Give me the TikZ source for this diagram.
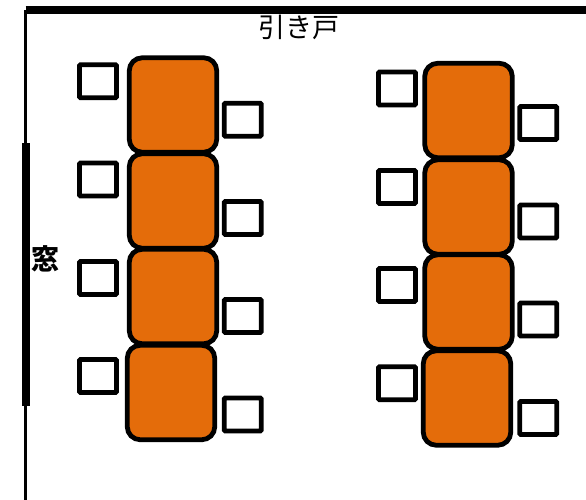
\documentclass[tikz,border=0pt]{standalone}
\usepackage{fontspec}
\newfontfamily\cjk{Noto Sans CJK JP}
\definecolor{deskorange}{HTML}{E46C0A}
\begin{document}
\begin{tikzpicture}[x=1pt,y=-1pt,
    desk/.style = {draw,line width=4.8pt,fill=deskorange,rounded corners=13pt,minimum width=87.5pt,minimum height=94.5pt,inner sep=0pt},
    seat/.style = {draw,line width=4.7pt,fill=white,rounded corners=1pt,minimum width=37pt,minimum height=33pt,inner sep=0pt}]
    \useasboundingbox (0,0) rectangle (586,500);
    % walls
    \coordinate (wallstart) at (25.5,500);
    \coordinate (wallcorner) at (25.5,10);
    \coordinate (wallend) at (586,10);
    \coordinate (wintop) at (26,143);
    \coordinate (winbot) at (26,406);
    \draw[line width=3pt] (wallstart) -- (wallcorner);
    \draw[line width=8pt] (wallcorner) -- (wallend);
    \draw[line width=8pt] (wintop) -- (winbot);
    \node (door) at (299,27) {\cjk\fontsize{27}{27}\selectfont 引き戸};
    \node (window) at (45.5,258.5) {\cjk\bfseries\fontsize{28}{28}\selectfont 窓};
    % left row
    \node[desk] (deskA) at (173,105) {};
    \node[desk] (deskB) at (173,201) {};
    \node[desk] (deskC) at (173,296.5) {};
    \node[desk] (deskD) at (171,392.5) {};
    \node[seat] (seatA) at (98,81.3) {};
    \node[seat] (seatB) at (98,179.5) {};
    \node[seat] (seatC) at (98,278) {};
    \node[seat] (seatD) at (98,376) {};
    \node[seat] (seatE) at (242.7,119.7) {};
    \node[seat] (seatF) at (242.7,218) {};
    \node[seat] (seatG) at (242.7,316) {};
    \node[seat] (seatH) at (242.7,414.5) {};
    % right row
    \node[desk] (deskE) at (468.5,110.5) {};
    \node[desk] (deskF) at (468.5,207) {};
    \node[desk] (deskG) at (468.5,302) {};
    \node[desk] (deskH) at (467,398) {};
    \node[seat] (seatI) at (397,88.5) {};
    \node[seat] (seatJ) at (397,187) {};
    \node[seat] (seatK) at (397,285) {};
    \node[seat] (seatL) at (397,383.3) {};
    \node[seat] (seatM) at (538.3,123) {};
    \node[seat] (seatN) at (538.3,221.5) {};
    \node[seat] (seatO) at (538.3,319.5) {};
    \node[seat] (seatP) at (538.3,418) {};
\end{tikzpicture}
\end{document}
